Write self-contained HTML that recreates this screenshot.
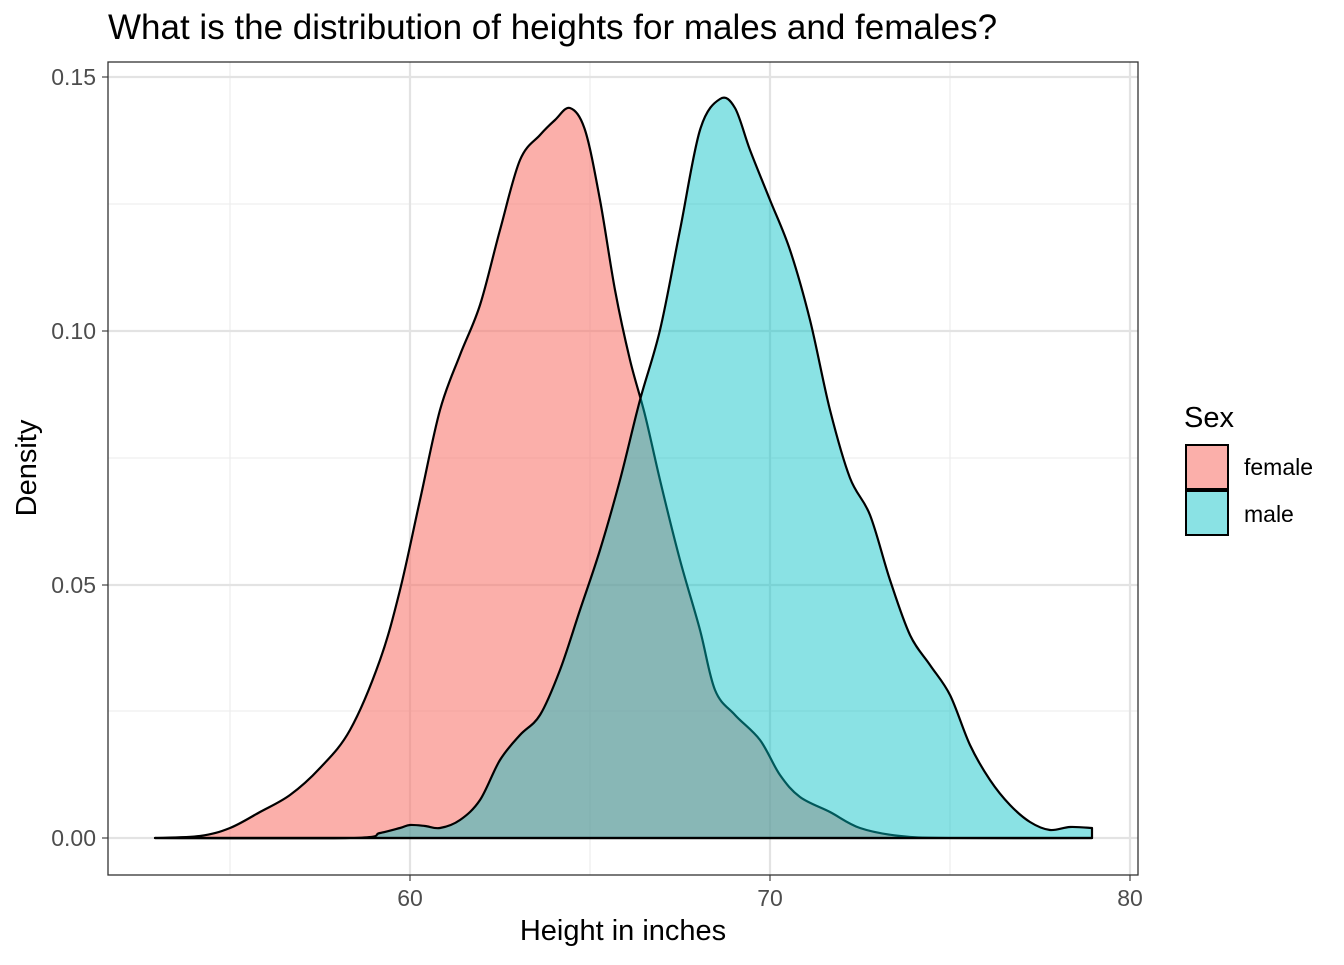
<!DOCTYPE html>
<html><head><style>
body{margin:0;background:#fff;}
svg text{font-family:"Liberation Sans",Arial,sans-serif;}
</style></head><body>
<svg width="1344" height="960" viewBox="0 0 1344 960" xmlns="http://www.w3.org/2000/svg">
<rect width="1344" height="960" fill="#fff"/>
<g stroke="#ebebeb" stroke-width="1.1">
<line x1="230" y1="62" x2="230" y2="875"/><line x1="590" y1="62" x2="590" y2="875"/><line x1="950" y1="62" x2="950" y2="875"/>
<line x1="108" y1="711" x2="1138" y2="711"/><line x1="108" y1="458" x2="1138" y2="458"/><line x1="108" y1="204" x2="1138" y2="204"/>
</g>
<g stroke="#e3e3e3" stroke-width="2.2">
<line x1="410" y1="62" x2="410" y2="875"/><line x1="770" y1="62" x2="770" y2="875"/><line x1="1130" y1="62" x2="1130" y2="875"/>
<line x1="108" y1="838" x2="1138" y2="838"/><line x1="108" y1="585" x2="1138" y2="585"/><line x1="108" y1="331" x2="1138" y2="331"/><line x1="108" y1="77" x2="1138" y2="77"/>
</g>
<path id="fem" fill="#F8766D" fill-opacity="0.58" stroke="#000" stroke-width="2.2" stroke-linejoin="round"
d="M155,838 L200,836 L230,828 L260,812 L290,795 L320,768 L350,730 L380,660 L400,590 L420,500 L440,410 L460,355 L480,305 L500,230 L520,160 L540,135 L555,120 L570,108 L585,130 L600,200 L615,290 L630,360 L645,415 L660,480 L680,560 L700,630 L715,690 L735,715 L760,740 L780,775 L800,797 L830,812 L860,828 L900,836 L950,838 L1092,838 L155,838 Z"/>
<path id="mal" fill="#00BFC4" fill-opacity="0.46" stroke="#000" stroke-width="2.2" stroke-linejoin="round"
d="M155,838 L350,838 L380,833 L400,828 L410,825 L425,826 L440,828 L460,820 L480,800 L500,760 L520,735 L540,715 L560,670 L580,610 L600,550 L620,480 L640,400 L660,330 L680,230 L700,130 L720,99 L735,108 L750,150 L770,200 L790,250 L810,320 L830,410 L850,478 L870,515 L890,580 L910,635 L930,665 L950,695 L970,745 L990,780 L1010,805 L1030,822 L1050,830 L1070,827 L1092,828 L1092,838 Z"/>
<rect x="108" y="62" width="1030" height="813" fill="none" stroke="#333" stroke-width="1.3"/>
<g stroke="#333" stroke-width="1.1">
<line x1="410" y1="875" x2="410" y2="881"/><line x1="770" y1="875" x2="770" y2="881"/><line x1="1130" y1="875" x2="1130" y2="881"/>
<line x1="102" y1="838" x2="108" y2="838"/><line x1="102" y1="585" x2="108" y2="585"/><line x1="102" y1="331" x2="108" y2="331"/><line x1="102" y1="77" x2="108" y2="77"/>
</g>
<g font-size="23" fill="#4d4d4d">
<text x="410" y="906" text-anchor="middle">60</text><text x="770" y="906" text-anchor="middle">70</text><text x="1130" y="906" text-anchor="middle">80</text>
<text x="96" y="846" text-anchor="end">0.00</text><text x="96" y="593" text-anchor="end">0.05</text><text x="96" y="339" text-anchor="end">0.10</text><text x="96" y="85" text-anchor="end">0.15</text>
</g>
<text x="623" y="940" font-size="29" text-anchor="middle" fill="#000">Height in inches</text>
<text transform="translate(36,468) rotate(-90)" font-size="29" text-anchor="middle" fill="#000">Density</text>
<text x="108" y="39" font-size="35" fill="#000">What is the distribution of heights for males and females?</text>
<text x="1184" y="427" font-size="29" fill="#000">Sex</text>
<rect x="1186" y="445" width="42" height="44" fill="#F8766D" fill-opacity="0.58" stroke="#000" stroke-width="2"/>
<rect x="1186" y="491" width="42" height="44" fill="#00BFC4" fill-opacity="0.46" stroke="#000" stroke-width="2"/>
<text x="1244" y="475" font-size="23" fill="#000">female</text>
<text x="1244" y="522" font-size="23" fill="#000">male</text>
</svg>
<script>
function smooth(id){
  var el=document.getElementById(id);
  var d=el.getAttribute('d');
  var pts=d.replace(/[MLZ]/g,' ').trim().split(/\s+/).map(function(s){var a=s.split(',');return [+a[0],+a[1]];});
  // curve points: all except closing baseline points
  var n=pts.length, curve, tail;
  if(id==='fem'){curve=pts.slice(0,n-1);tail=[pts[n-1]];}
  else{curve=pts.slice(0,n-1);tail=[pts[n-1]];}
  var s='M'+curve[0][0]+','+curve[0][1];
  for(var i=0;i<curve.length-1;i++){
    var p0=curve[Math.max(0,i-1)],p1=curve[i],p2=curve[i+1],p3=curve[Math.min(curve.length-1,i+2)];
    var c1x=p1[0]+(p2[0]-p0[0])/6,c1y=p1[1]+(p2[1]-p0[1])/6;
    var c2x=p2[0]-(p3[0]-p1[0])/6,c2y=p2[1]-(p3[1]-p1[1])/6;
    s+=' C'+c1x.toFixed(1)+','+c1y.toFixed(1)+' '+c2x.toFixed(1)+','+c2y.toFixed(1)+' '+p2[0]+','+p2[1];
  }
  tail.forEach(function(p){s+=' L'+p[0]+','+p[1];});
  s+=' Z';
  el.setAttribute('d',s);
}
smooth('fem');smooth('mal');
</script>
</body></html>
